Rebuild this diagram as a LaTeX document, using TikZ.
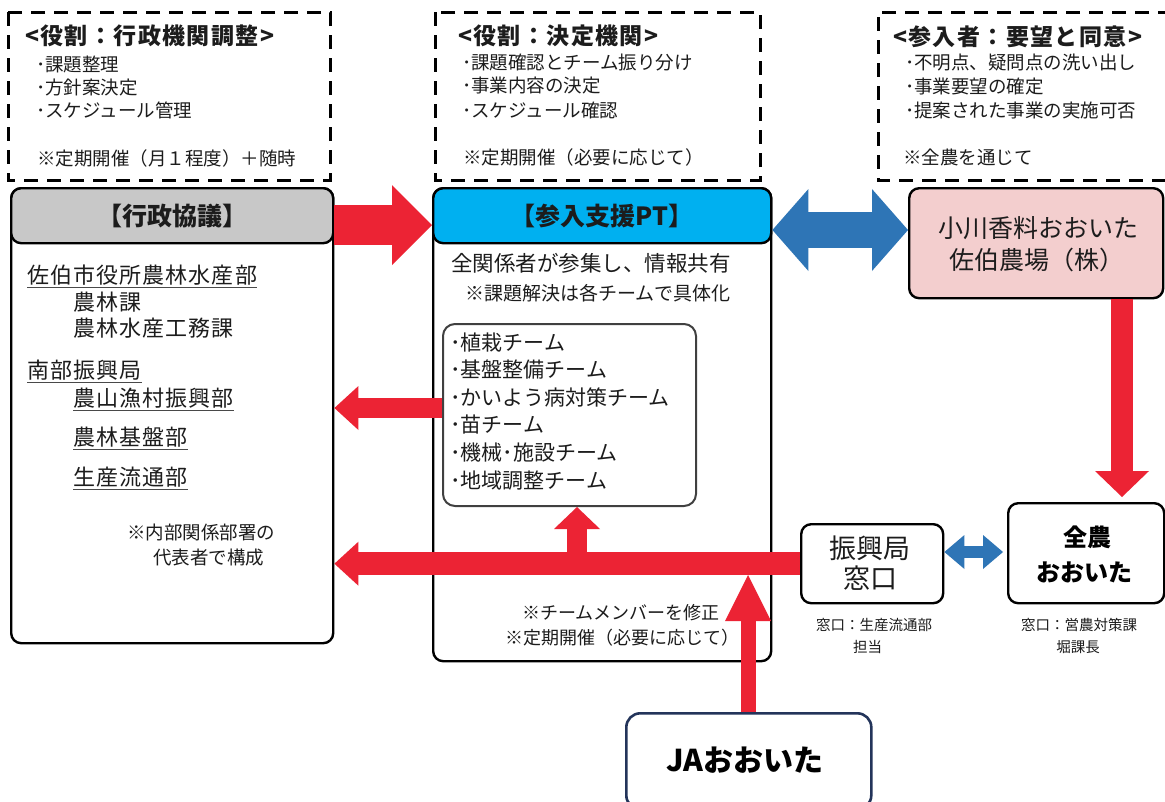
\documentclass[tikz,border=0pt]{standalone}
\usepackage{fontspec}
\setmainfont{Noto Sans CJK JP}
\usetikzlibrary{arrows.meta}
\definecolor{ared}{RGB}{236,35,52}
\definecolor{ablue}{RGB}{46,117,182}
\definecolor{hgray}{RGB}{200,200,200}
\definecolor{hcyan}{RGB}{0,176,240}
\definecolor{hpink}{RGB}{243,206,206}
\definecolor{jnavy}{RGB}{35,52,90}
\definecolor{txt}{RGB}{28,28,28}
\newcommand\myfs[1]{\fontsize{#1}{#1}\selectfont}
\tikzset{
  dbox/.style={draw=black, line width=3pt, dash pattern=on 14pt off 9pt},
  bigbox/.style={draw=black, line width=2.4pt, rounded corners=10pt, inner sep=0pt, anchor=north west},
  tx/.style={inner sep=0pt, anchor=west, text=txt},
  tc/.style={inner sep=0pt, anchor=center, text=txt},
  ttl/.style={tx, font=\myfs{23}\bfseries\addfontfeature{LetterSpace=6}},
  bul/.style={tx, font=\myfs{18.5}},
  lbx/.style={tx, font=\myfs{22}\addfontfeature{LetterSpace=5}},
  ul/.style={draw=txt!80, line width=1.2pt},
  rarr/.style n args={3}{draw=ared, line width=#1, -{Triangle[length=#2, width=#3, line width=0pt]}},
  barr/.style n args={3}{draw=ablue, line width=#1, {Triangle[length=#2, width=#3, line width=0pt]}-{Triangle[length=#2, width=#3, line width=0pt]}},
}
\begin{document}
\begin{tikzpicture}[x=1pt,y=-1pt]
\useasboundingbox (0,0) rectangle (1165,801);
\fill[white] (0,0) rectangle (1165,801);

% top dashed boxes
\draw[dbox] (8,12) rectangle (330,180);
\draw[dbox] (435,12) rectangle (760,180);
\draw[dbox] (1172,12) -- (878,12) -- (878,180) -- (1172,180);

\node[ttl] (r1t) at (25,36) {<役割：行政機関調整>};
\node[bul] (r1a) at (36,64) {･課題整理};
\node[bul] (r1b) at (36,87) {･方針案決定};
\node[bul] (r1c) at (36,110) {･スケジュール管理};
\node[bul] (r1n) at (37,158) {※定期開催（月１程度）＋随時};

\node[ttl] (r2t) at (458,36) {<役割：決定機関>};
\node[bul] (r2a) at (462,63) {･課題確認とチーム振り分け};
\node[bul] (r2b) at (462,86) {･事業内容の決定};
\node[bul] (r2c) at (462,110) {･スケジュール確認};
\node[bul] (r2n) at (463,157) {※定期開催（必要に応じて）};

\node[ttl] (r3t) at (893,37) {<参入者：要望と同意>};
\node[bul] (r3a) at (905,63) {･不明点、疑問点の洗い出し};
\node[bul] (r3b) at (905,87) {･事業要望の確定};
\node[bul] (r3c) at (905,110) {･提案された事業の実施可否};
\node[bul] (r3n) at (903,157) {※全農を通じて};

% left box
\node[bigbox, minimum width=322pt, minimum height=455pt] (gy) at (10,187) {};
\node[bigbox, fill=hgray, minimum width=322pt, minimum height=55pt, font=\myfs{25}\bfseries, text=txt] (gyh) at (10,187) {【行政協議】};
\node[lbx] (g1) at (27,275) {佐伯市役所農林水産部};
\node[lbx] (g2) at (73,302) {農林課};
\node[lbx] (g3) at (73,328) {農林水産工務課};
\node[lbx] (g4) at (27,370) {南部振興局};
\node[lbx] (g5) at (73,398) {農山漁村振興部};
\node[lbx] (g6) at (73,437) {農林基盤部};
\node[lbx] (g7) at (73,477) {生産流通部};
\foreach \n in {g1,g4,g5,g6,g7}{
  \draw[ul] ([yshift=-4pt]\n.base west) -- ([yshift=-4pt]\n.base east);
}
\node[bul] (g8) at (127,532) {※内部関係部署の};
\node[bul] (g9) at (153,558) {代表者で構成};

% PT box
\node[bigbox, minimum width=338pt, minimum height=473pt] (pt) at (432,187) {};
\node[bigbox, fill=hcyan, minimum width=338pt, minimum height=55pt, font=\myfs{25}\bfseries, text=txt] (pth) at (432,187) {【参入支援PT】};
\node[tc, font=\myfs{21.5}] (p1) at (591,263) {全関係者が参集し、情報共有};
\node[tx, font=\myfs{19}] (p2) at (465,293) {※課題解決は各チームで具体化};
\node[bigbox, draw=black!75, line width=2pt, rounded corners=12pt, minimum width=253pt, minimum height=182pt] (teams) at (442,323) {};
\node[tx, font=\myfs{21}] (t1) at (450,343) {･植栽チーム};
\node[tx, font=\myfs{21}] (t2) at (450,370) {･基盤整備チーム};
\node[tx, font=\myfs{21}] (t3) at (450,397) {･かいよう病対策チーム};
\node[tx, font=\myfs{21}] (t4) at (450,425) {･苗チーム};
\node[tx, font=\myfs{21}] (t5) at (450,453) {･機械･施設チーム};
\node[tx, font=\myfs{21}] (t6) at (450,481) {･地域調整チーム};
\node[tx, anchor=east, font=\myfs{18}] (p3) at (720,613) {※チームメンバーを修正};
\node[tx, font=\myfs{18}] (p4) at (505,638) {※定期開催（必要に応じて）};

% right side
\node[bigbox, fill=hpink, minimum width=254pt, minimum height=110pt] (og) at (908,187) {};
\node[tc, font=\myfs{25}] (og1) at (1038,228) {小川香料おおいた};
\node[tc, font=\myfs{25}] (og2) at (1037,260) {佐伯農場（株）};

\node[bigbox, minimum width=142pt, minimum height=79pt] (shin) at (800,523) {};
\node[tc, font=\myfs{27}] (s1) at (870,548) {振興局};
\node[tc, font=\myfs{27}] (s2) at (870,578) {窓口};
\node[tc, font=\myfs{14.5}] (s3) at (874,625) {窓口：生産流通部};
\node[tx, font=\myfs{14.5}] (s4) at (853,647) {担当};

\node[bigbox, minimum width=156pt, minimum height=100pt] (zen) at (1007,502) {};
\node[tc, font=\myfs{24}\bfseries, text=black] (z1) at (1087,537) {全農};
\node[tc, font=\myfs{24}\bfseries, text=black] (z2) at (1084,572) {おおいた};
\node[tc, font=\myfs{14.5}] (z3) at (1079,625) {窓口：営農対策課};
\node[tc, font=\myfs{14.5}] (z4) at (1078,647) {堀課長};

\node[bigbox, draw=jnavy, line width=2.6pt, rounded corners=14pt, minimum width=245pt, minimum height=96pt] (ja) at (625,712) {};
\node[tc, font=\myfs{30}\bfseries, text=black] (ja1) at (745,760) {JAおおいた};

% arrows
\coordinate (ya) at (0,225);
\draw[rarr={40pt}{40pt}{80pt}] (gy.east |- ya) -- (pt.west |- ya);
\coordinate (yb) at (0,408);
\draw[rarr={20pt}{24pt}{44pt}] (teams.west |- yb) -- (gy.east |- yb);
\draw[rarr={23pt}{24pt}{44pt}] (shin.west) -- (gy.east |- shin.west);
\coordinate (xb) at (577,0);
\draw[rarr={20pt}{22pt}{46pt}] (xb |- shin.west) -- (xb |- teams.south);
\coordinate (jtip) at (748,575);
\draw[rarr={15pt}{46pt}{46pt}] (ja.north -| jtip) -- (jtip);
\coordinate (xr) at (1122,0);
\draw[rarr={22pt}{26pt}{54pt}, shorten >=5pt] (og.south -| xr) -- (zen.north -| xr);
\coordinate (yc) at (0,230);
\draw[barr={36pt}{36pt}{82pt}] (pt.east |- yc) -- (og.west |- yc);
\coordinate (yd) at (0,552);
\draw[barr={12pt}{20pt}{34pt}, shorten >=4pt] (shin.east |- yd) -- (zen.west |- yd);
\end{tikzpicture}
\end{document}
